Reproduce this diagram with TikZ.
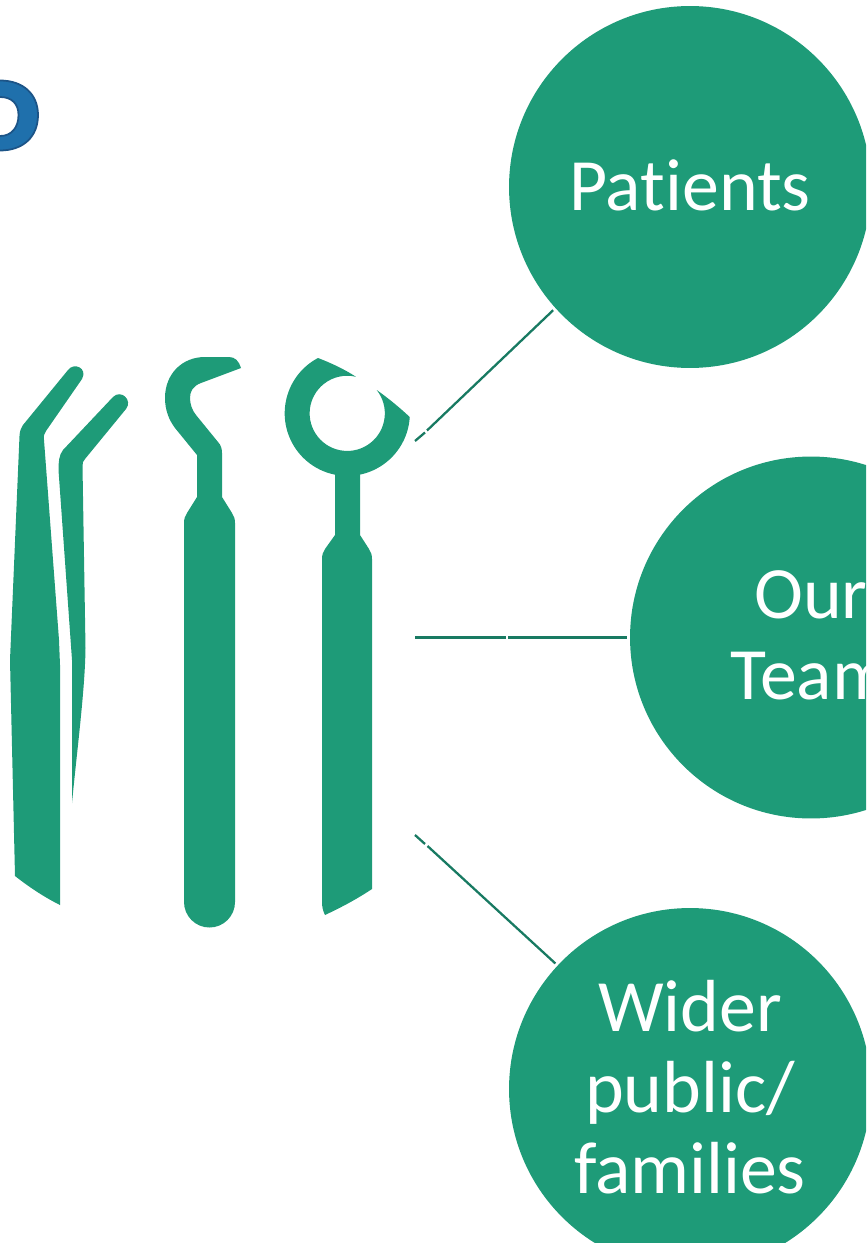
\documentclass[tikz,border=0pt]{standalone}
\usepackage{fontspec}
\setmainfont{Carlito}[Ligatures=NoCommon]
\usepackage{tikz}
\definecolor{toolgreen}{RGB}{30,155,120}
\definecolor{spokegreen}{RGB}{24,122,98}
\definecolor{titleblue}{RGB}{31,112,172}
\definecolor{titledark}{RGB}{28,84,135}
\tikzset{
  groupdot/.style={circle, fill=toolgreen, text=white, minimum size=7.24cm, inner sep=0pt, outer sep=1.8pt, align=center, text depth=2.4pt, font=\fontsize{42}{46}\selectfont},
  spoke/.style={color=spokegreen, line width=1.3pt}
}

\begin{document}
\begin{tikzpicture}[x=0.02cm,y=-0.02cm]

\useasboundingbox (0,0) rectangle (866,1243);
\clip (0,0) rectangle (866,1243);

%cut off letter of the title
\filldraw [fill=titleblue, draw=titledark, line width=1pt, even odd rule]
(0,80.5) .. controls (23,80.5) and (38,94) .. (38,115) .. controls (38,137) and (23,150.5) .. (0,150.5) -- (-5,150.5) -- (-5,80.5) -- cycle
(0,97) -- (-5,97) -- (-5,136) -- (0,136) .. controls (12,136) and (18.5,127) .. (18.5,115) .. controls (18.5,104) and (12,97) .. (0,97) -- cycle;

%left tweezer
\fill [color=toolgreen]
(15,876) -- (10,660) -- (19.5,436) .. controls (19.7,431) and (21,428) .. (23,425) -- (68,370)
.. controls (74,362) and (88,368) .. (82,379) -- (46,431) .. controls (44,434) and (43.5,436) .. (44,440)
-- (59,640) -- (60,665) -- (60,905) .. controls (44,897) and (29,887) .. (15,876) -- cycle;

%short tweezer
\fill [color=toolgreen]
(72,803) -- (72,660) -- (58.5,470) .. controls (58.5,462) and (59,455) .. (63,450) -- (113,397)
.. controls (121,389) and (133,400) .. (126,409) -- (85,459) .. controls (83,461) and (82.5,463) .. (82.5,466)
-- (85.5,648) .. controls (85,690) and (77,750) .. (72,803) -- cycle;

%probe
\fill [color=toolgreen]
(184,523) .. controls (184,519) and (185,516) .. (187,513) -- (197,497) -- (197,455) -- (175,428)
.. controls (169,420) and (165,410) .. (165,398) .. controls (165,374) and (182,357) .. (205,357)
-- (229,357) .. controls (235,357) and (239,361) .. (241,368) -- (201,383)
.. controls (193,386) and (190,391) .. (190,398) .. controls (190,404) and (192,410) .. (196,415)
-- (218,442) .. controls (221,445) and (222,449) .. (222,453) -- (222,497) -- (232,513)
.. controls (234,516) and (235,519) .. (235,523) -- (235,902)
arc (0:-180:0.51cm) -- cycle;

%mirror
\fill [color=toolgreen]
(318,358) arc (117.9:356.6:1.252cm) .. controls (399,407) and (388,398) .. (376.7,390) arc (38.4:-283.4:0.752cm) .. controls (344,369) and (331,363) .. (318,358) -- cycle;
\fill [color=toolgreen]
(335,470) -- (360,470) -- (360,535) -- (369,549) .. controls (371,552) and (372,555) .. (372,559)
-- (372,889) .. controls (357,899) and (342,907) .. (325,915) .. controls (323,911) and (322,907) .. (322,902)
-- (322,559) .. controls (322,555) and (323,552) .. (325,549) -- (335,535) -- cycle;

%circles
\node (patients) [groupdot] at (690,187) {Patients};
\node (team) [groupdot] at (811,637.5) {Our\\Team};
\node (wider) [groupdot] at (690,1089) {Wider\\public/\\families};

%spokes, each with its small break
\coordinate (topa) at (415,441);
\coordinate (topb) at (425,432.5);
\coordinate (topc) at (427,430.5);
\coordinate (mida) at (415,637.5);
\coordinate (midb) at (506,637.5);
\coordinate (midc) at (508,637.5);
\coordinate (lowa) at (415,835);
\coordinate (lowb) at (425,844);
\coordinate (lowc) at (427.5,846);

\draw [spoke] (topa) -- (topb);
\draw [spoke] (topc) -- (patients.222.8);
\draw [spoke] (mida) -- (midb);
\draw [spoke] (midc) -- (team.west);
\draw [spoke] (lowa) -- (lowb);
\draw [spoke] (lowc) -- (wider.137.2);

\end{tikzpicture}
\end{document}
